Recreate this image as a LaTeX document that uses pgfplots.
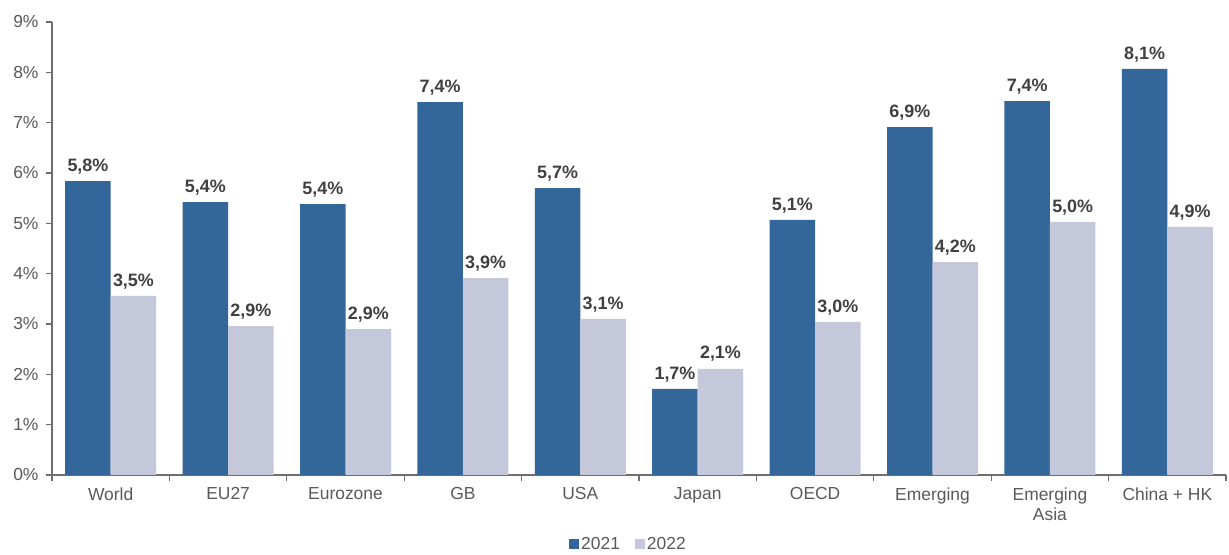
\documentclass[border=0pt]{standalone}
\usepackage{pgfplots}
\pgfplotsset{compat=1.18}
\usepackage{fontspec}
\setmainfont{Liberation Sans}
\definecolor{c21}{RGB}{51,102,153}
\definecolor{c22}{RGB}{196,200,218}
\definecolor{tick}{RGB}{89,89,89}
\definecolor{lbl}{RGB}{64,64,64}
\definecolor{axl}{RGB}{110,110,110}
\begin{document}
\begin{tikzpicture}
\begin{axis}[
  name=ax,
  scale only axis,
  width=1174bp, height=453bp,
  xmin=-0.5, xmax=9.5,
  ymin=0, ymax=9,
  ytick={0,1,...,9},
  yticklabel={\pgfmathprintnumber{\tick}\%},
  /pgf/number format/assume math mode=true,
  axis x line*=bottom, axis y line*=left,
  axis line style={axl, line width=1.2pt},
  xtick={0,...,9},
  xticklabels={World,EU27,Eurozone,GB,USA,Japan,OECD,Emerging,Emerging\\Asia,China + HK},
  xticklabel style={align=center, font=\fontsize{17.5}{20.5}\selectfont, text=tick, yshift=-3bp},
  yticklabel style={font=\fontsize{17.5}{20.5}\selectfont, text=tick, xshift=-4bp},
  major x tick style={draw=none},
  minor xtick={-0.5,0.5,...,9.5},
  minor x tick style={axl, line width=1.2pt},
  minor tick length=6bp,
  y tick style={axl, line width=1.2pt},
  major tick length=6bp,
  tick align=outside,
  ybar=0pt, bar width=45.5bp,
  nodes near coords,
  point meta=explicit symbolic,
  every node near coord/.append style={font=\bfseries\fontsize{18}{21}\selectfont, text=lbl, yshift=3.5bp},
  legend style={draw=none, at={(0.491,-0.128)}, anchor=north, legend columns=2,
    font=\fontsize{17.5}{20.5}\selectfont, text=tick,
    /tikz/every even column/.append style={column sep=13bp}},
  legend image code/.code={\fill[#1] (0bp,-4.5bp) rectangle (10bp,5.5bp);},
  clip=false,
]
\addplot[fill=c21, draw=none] coordinates {
(0,5.84) [5,8\%]
(1,5.42) [5,4\%]
(2,5.38) [5,4\%]
(3,7.41) [7,4\%]
(4,5.70) [5,7\%]
(5,1.71) [1,7\%]
(6,5.07) [5,1\%]
(7,6.91) [6,9\%]
(8,7.43) [7,4\%]
(9,8.07) [8,1\%]
};
\addplot[fill=c22, draw=none] coordinates {
(0,3.56) [3,5\%]
(1,2.96) [2,9\%]
(2,2.90) [2,9\%]
(3,3.91) [3,9\%]
(4,3.10) [3,1\%]
(5,2.11) [2,1\%]
(6,3.04) [3,0\%]
(7,4.23) [4,2\%]
(8,5.03) [5,0\%]
(9,4.93) [4,9\%]
};
\legend{2021,2022}
\end{axis}
\path (ax.south west) ++(-52bp,-77bp) rectangle ++(1229bp,552bp);
\end{tikzpicture}
\end{document}
